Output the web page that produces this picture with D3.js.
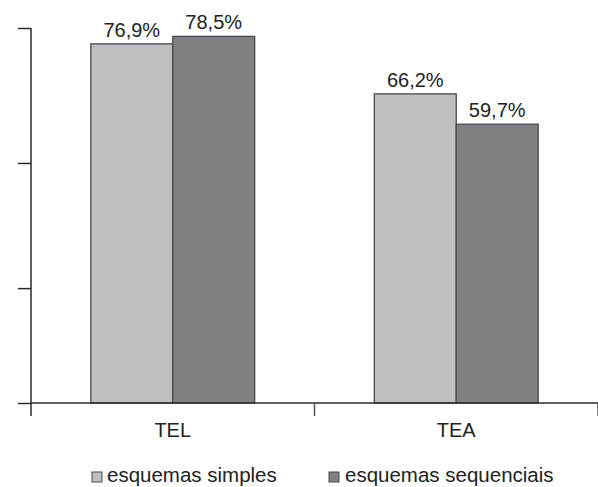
<!DOCTYPE html>
<html>
<head>
<meta charset="utf-8">
<script src="https://cdn.jsdelivr.net/npm/d3@7"></script>
<style>
  body { margin: 0; background: #fff; }
  text { font-family: "Liberation Sans", Arial, sans-serif; fill: #222; }
  .domain, .tick line { stroke: #2a2a2a; stroke-width: 1.5; }
</style>
</head>
<body>
<div id="chart"></div>
<script>
var categories = ["TEL", "TEA"];
var series = ["esquemas simples", "esquemas sequenciais"];
var simples = [76.9, 66.2];
var sequenciais = [78.5, 59.7];
var labelsSimples = ["76,9%", "66,2%"];
var labelsSequenciais = ["78,5%", "59,7%"];
var yTicks = [0, 24.6, 51.4, 80.3];
var colors = ["#bebfc3", "#808185"];

const WIDTH = 598;
const HEIGHT = 487;

var rows = categories.map(function(c, i) {
  return {
    cat: c,
    vals: [
      { s: series[0], v: simples[i], label: labelsSimples[i] },
      { s: series[1], v: sequenciais[i], label: labelsSequenciais[i] }
    ]
  };
});

const svg = d3.select("#chart").append("svg")
  .attr("width", WIDTH)
  .attr("height", HEIGHT);

var x = d3.scaleBand().domain(categories).range([31, 598]);
var x1 = d3.scaleBand().domain(series).range([0, x.bandwidth()]).paddingOuter(0.73);
var y = d3.scaleLinear().domain([0, 80.3]).range([403, 28]);

// bars
var group = svg.selectAll(".cat")
  .data(rows)
  .enter().append("g")
  .attr("class", "cat")
  .attr("transform", function(d) { return "translate(" + x(d.cat) + ",0)"; });

group.selectAll("rect")
  .data(function(d) { return d.vals; })
  .enter().append("rect")
  .attr("x", function(d) { return x1(d.s); })
  .attr("y", function(d) { return y(d.v); })
  .attr("width", x1.bandwidth())
  .attr("height", function(d) { return y(0) - y(d.v); })
  .attr("fill", function(d, i) { return colors[i]; })
  .attr("stroke", "#4a4a4a")
  .attr("stroke-width", 1.3);

group.selectAll(".val")
  .data(function(d) { return d.vals; })
  .enter().append("text")
  .attr("class", "val")
  .attr("x", function(d) { return x1(d.s) + x1.bandwidth() / 2; })
  .attr("y", function(d) { return y(d.v) - 7; })
  .attr("text-anchor", "middle")
  .style("font-size", "20px")
  .text(function(d) { return d.label; });

// y axis
svg.append("g")
  .attr("transform", "translate(31,0)")
  .call(d3.axisLeft(y).tickValues(yTicks).tickSize(13).tickFormat(""))
  .call(function(g) {
    g.select(".domain").attr("d", "M0," + y(80.3) + "V" + (y(0) + 13));
  });

// x axis
var xAxis = svg.append("g")
  .attr("transform", "translate(0," + y(0) + ")");
xAxis.append("path")
  .attr("class", "domain")
  .attr("d", "M31,0H598");
xAxis.selectAll(".sep")
  .data(categories)
  .enter().append("line")
  .attr("class", "sep")
  .attr("x1", function(d) { return x(d) + x.bandwidth(); })
  .attr("x2", function(d) { return x(d) + x.bandwidth(); })
  .attr("y1", 0)
  .attr("y2", 13)
  .attr("stroke", "#555")
  .attr("stroke-width", 1.5);
xAxis.selectAll(".lab")
  .data(categories)
  .enter().append("text")
  .attr("class", "lab")
  .attr("x", function(d) { return x(d) + x.bandwidth() / 2; })
  .attr("y", 34)
  .attr("text-anchor", "middle")
  .style("font-size", "20px")
  .text(function(d) { return d; });

// legend
var legendX = [92, 329];
var legend = svg.selectAll(".legend")
  .data(series)
  .enter().append("g")
  .attr("class", "legend")
  .attr("transform", function(d, i) { return "translate(" + legendX[i] + ",472)"; });

legend.append("rect")
  .attr("width", 10)
  .attr("height", 10)
  .attr("fill", function(d, i) { return colors[i]; })
  .attr("stroke", "#4a4a4a")
  .attr("stroke-width", 1);

legend.append("text")
  .attr("x", function(d, i) { return i ? 16 : 15; })
  .attr("y", 10)
  .style("font-size", "20.5px")
  .text(function(d) { return d; });
</script>
</body>
</html>
